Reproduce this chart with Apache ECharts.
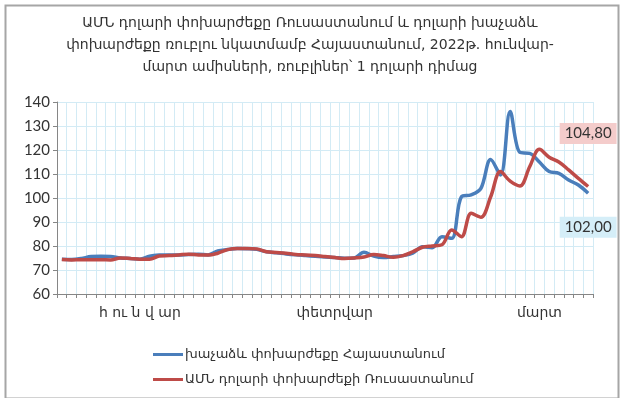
<!DOCTYPE html>
<html>
<head>
<meta charset="utf-8">
<script src="https://cdn.jsdelivr.net/npm/echarts@6/dist/echarts.min.js"></script>
<style>
html,body{margin:0;padding:0;background:#fff;}
#c{width:620px;height:398px;}
</style>
</head>
<body>
<div id="c"></div>
<script>
const titleLines = [
  "ԱՄՆ դոլարի փոխարժեքը Ռուսաստանում և դոլարի խաչաձև",
  "փոխարժեքը ռուբլու նկատմամբ Հայաստանում, 2022թ. հունվար-",
  "մարտ ամիսների, ռուբլիներ՝ 1 դոլարի դիմաց"
];
const seriesNames = [
  "խաչաձև փոխարժեքը Հայաստանում",
  "ԱՄՆ դոլարի փոխարժեքի Ռուսաստանում"
];
// trading days Jan–Mar 2022 (category index 1..55)
const days = Array.from({length: 55}, (_, i) => String(i + 1));
const monthLabels = ["հ ու ն վ ար", "փետրվար", "մարտ"];
const monthLabelDay = ["9", "29", "50"];

const armenia = [
  74.5, 74.4, 74.8, 75.6, 75.7, 75.6, 75.0, 74.8, 74.5, 75.7,
  76.2, 76.3, 76.2, 76.5, 76.6, 76.3, 77.9, 78.5, 79.0, 78.9,
  78.6, 77.6, 77.2, 76.7, 76.3, 76.0, 75.7, 75.4, 75.2, 74.9,
  75.0, 77.4, 75.8, 75.2, 75.6, 76.0, 77.0, 79.7, 79.3, 83.9,
  83.2, 100.5, 101.3, 104.0, 116.0, 109.6, 136.0, 119.0, 118.6, 115.0,
  111.0, 110.3, 107.5, 105.4, 102.0
];
const russia = [
  74.4, 74.2, 74.3, 74.3, 74.3, 74.2, 75.0, 74.8, 74.5, 74.5,
  75.8, 76.0, 76.3, 76.6, 76.3, 76.2, 77.0, 78.5, 79.0, 79.0,
  78.8, 77.6, 77.3, 77.0, 76.5, 76.3, 76.0, 75.6, 75.2, 74.8,
  75.0, 75.4, 76.5, 76.0, 75.3, 76.0, 77.6, 79.5, 80.0, 80.5,
  86.7, 83.9, 93.6, 92.0, 100.5, 111.0, 107.0, 105.0, 113.0, 120.3,
  117.0, 115.0, 111.7, 108.2, 104.8
];
const yMin = 60, yMax = 140, yStep = 10;

const fmt = v => v.toFixed(2).replace('.', ',');
const armFont = "'DejaVu Sans'";
const numFont = "Lato, 'DejaVu Sans'";

function withLastLabel(arr, offset, bg) {
  return arr.map((v, i) => {
    if (i !== arr.length - 1) return v;
    return {
      value: v,
      label: {
        show: true, position: 'inside', offset: offset,
        formatter: fmt(v), backgroundColor: bg, color: '#333',
        fontFamily: numFont, fontSize: 15, padding: [3, 5, 3, 5]
      }
    };
  });
}

const chart = echarts.init(document.getElementById('c'), null, {renderer: 'canvas'});
chart.setOption({
  animation: false,
  backgroundColor: '#fff',
  title: {
    text: titleLines.join('\n'),
    left: 'center', top: 7,
    textStyle: {fontFamily: armFont, fontSize: 14, fontWeight: 'normal', color: '#333', lineHeight: 22}
  },
  graphic: [{
    type: 'rect', left: 3, top: 3,
    shape: {width: 613, height: 393},
    style: {fill: 'none', stroke: '#a6a6a6', lineWidth: 2}
  }],
  legend: {
    orient: 'vertical', left: 148, top: 343,
    itemWidth: 30, itemHeight: 3, itemGap: 12, icon: 'rect',
    textStyle: {fontFamily: armFont, fontSize: 13, color: '#333', padding: [0, 0, 0, -3]},
    data: seriesNames
  },
  grid: {left: 57, right: 27, top: 102, bottom: 104, containLabel: false},
  xAxis: {
    type: 'category', data: days, boundaryGap: true,
    axisLine: {lineStyle: {color: '#868686', width: 1}},
    axisTick: {show: true, interval: 0, length: 4, lineStyle: {color: '#868686'}},
    axisLabel: {
      interval: 0, margin: 12, fontFamily: armFont, fontSize: 14, color: '#333',
      formatter: v => { const k = monthLabelDay.indexOf(v); return k >= 0 ? monthLabels[k] : ''; }
    },
    splitLine: {show: true, interval: 0, lineStyle: {color: '#d3ebf5', width: 1}}
  },
  yAxis: {
    type: 'value', min: yMin, max: yMax, interval: yStep,
    axisLine: {show: true, lineStyle: {color: '#868686'}},
    axisTick: {show: true, length: 4, lineStyle: {color: '#868686'}},
    axisLabel: {fontFamily: numFont, fontSize: 15, color: '#333', margin: 7},
    splitLine: {show: true, lineStyle: {color: '#d3ebf5', width: 1}}
  },
  series: [
    {
      name: seriesNames[0], type: 'line', smooth: 0.35,
      symbol: 'circle', symbolSize: 0, showSymbol: true, showAllSymbol: true,
      lineStyle: {color: '#4a7ebb', width: 3.5}, itemStyle: {color: '#4a7ebb'},
      data: withLastLabel(armenia, [0, 34], '#d5eef8'), z: 3
    },
    {
      name: seriesNames[1], type: 'line', smooth: 0.35,
      symbol: 'circle', symbolSize: 0, showSymbol: true, showAllSymbol: true,
      lineStyle: {color: '#be4b48', width: 3.5}, itemStyle: {color: '#be4b48'},
      data: withLastLabel(russia, [0, -53], '#f4cccb'), z: 4
    }
  ]
});
</script>
</body>
</html>
